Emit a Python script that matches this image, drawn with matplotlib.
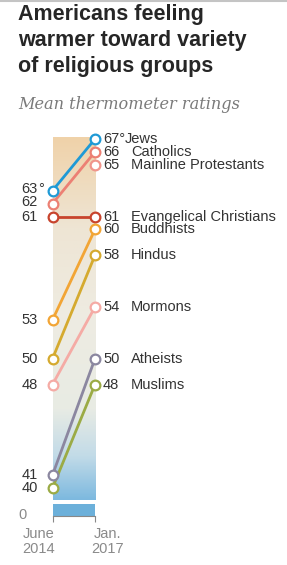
import numpy as np
import matplotlib.pyplot as plt
from matplotlib.lines import Line2D
from matplotlib.colors import LinearSegmentedColormap

groups = ['Jews', 'Catholics', 'Mainline Protestants', 'Evangelical Christians',
          'Buddhists', 'Hindus', 'Mormons', 'Atheists', 'Muslims']
rating_2014 = [63, 62, None, 61, 53, 50, 48, 41, 40]
rating_2017 = [67, 66, 65, 61, 60, 58, 54, 50, 48]
periods = ['June\n2014', 'Jan.\n2017']
colors = ['#1f9ad6', '#ec8074', '#f0958c', '#c8442d', '#f2a535',
          '#d5aa2f', '#f5aba5', '#8b87a0', '#9bab45']

W, H = 287, 565
FONT = ['Liberation Sans', 'DejaVu Sans']
DARK = '#333333'
GREY = '#8a8a8a'
LBL = 10.5

fig = plt.figure(figsize=(W / 100, H / 100), dpi=100)

# thin rule at the very top
fig.add_artist(Line2D([0, 1], [1 - 1 / H] * 2, color='#c4c4c4', lw=1.5))

for i, line in enumerate(['Americans feeling', 'warmer toward variety',
                          'of religious groups']):
    fig.text(18 / W, 1 - (20 + 26 * i) / H, line, fontsize=15.5,
             fontweight='bold', color='#262626', family=FONT, va='baseline')
fig.text(18 / W, 1 - 109 / H, 'Mean thermometer ratings', fontsize=11.6,
         style='italic', color='#7a7a7a', family='DejaVu Serif', va='baseline')

# axes: x=0 June 2014, x=1 Jan 2017; y in rating units
y_lo, y_hi = 37.83, 67.6
ax = fig.add_axes([52.5 / W, 1 - 516 / H, 42.5 / W, (516 - 131.2) / H])
ax.set_xlim(0, 1)
ax.set_ylim(y_lo, y_hi)

# background gradient band
cmap = LinearSegmentedColormap.from_list('band', [
    (0.0, '#7db9df'), (0.12, '#c2dbe8'), (0.25, '#e8ebe4'),
    (0.5, '#eeece2'), (0.75, '#eee5d4'), (1.0, '#f0d2a9')])
grad = np.linspace(0, 1, 256).reshape(-1, 1)
ax.imshow(grad, cmap=cmap, origin='lower', aspect='auto',
          extent=(0, 1, 39.07, 67.1), zorder=0)
ax.fill_between([0, 1], y_lo, 38.76, color='#6cb0da', zorder=0, lw=0)

for name, a, b, c in zip(groups, rating_2014, rating_2017, colors):
    if a is not None:
        ax.plot([0, 1], [a, b], color=c, lw=2, zorder=2, solid_capstyle='butt')
        ax.plot([0], [a], 'o', ms=7, mfc='white', mec=c, mew=1.6,
                zorder=3, clip_on=False)
    ax.plot([1], [b], 'o', ms=7, mfc='white', mec=c, mew=1.6,
            zorder=3, clip_on=False)

    # right-hand labels
    deg = '°' if name == 'Jews' else ''
    ax.annotate(f'{b}{deg}', (1, b), xytext=(8, 0), textcoords='offset pixels',
                ha='left', va='center', fontsize=LBL, color=DARK, family=FONT)
    ax.annotate(name, (1, b), xytext=(30 if name == 'Jews' else 36, 0),
                textcoords='offset pixels', ha='left', va='center',
                fontsize=LBL, color=DARK, family=FONT)

    # left-hand labels
    if a is not None:
        dy = {63: 2, 62: 2}.get(a, 0)
        ax.annotate(f'{a}', (0, a), xytext=(-14.5, dy),
                    textcoords='offset pixels', ha='right', va='center',
                    fontsize=LBL, color=DARK, family=FONT)
        if name == 'Jews':
            ax.annotate('°', (0, a), xytext=(-14, dy),
                        textcoords='offset pixels', ha='left', va='center',
                        fontsize=LBL, color=DARK, family=FONT)

ax.annotate('0', (0, y_lo), xytext=(-25.5, 1), textcoords='offset pixels',
            ha='right', va='center', fontsize=LBL, color=GREY, family=FONT)

for s in ['top', 'left', 'right']:
    ax.spines[s].set_visible(False)
ax.spines['bottom'].set_color('#888888')
ax.spines['bottom'].set_linewidth(0.8)
ax.set_yticks([])
ax.set_xticks([0, 1])
ax.set_xticklabels([])
ax.tick_params(axis='x', length=4, width=0.8, color='#888888')
ax.annotate(periods[0], (0, y_lo), xytext=(2.5, -11), textcoords='offset pixels',
            ha='right', va='top', multialignment='center', fontsize=LBL,
            color=GREY, family=FONT, linespacing=1.05)
ax.annotate(periods[1], (1, y_lo), xytext=(-4, -11), textcoords='offset pixels',
            ha='left', va='top', multialignment='center', fontsize=LBL,
            color=GREY, family=FONT, linespacing=1.05)

fig.savefig('out.png', dpi=100)
